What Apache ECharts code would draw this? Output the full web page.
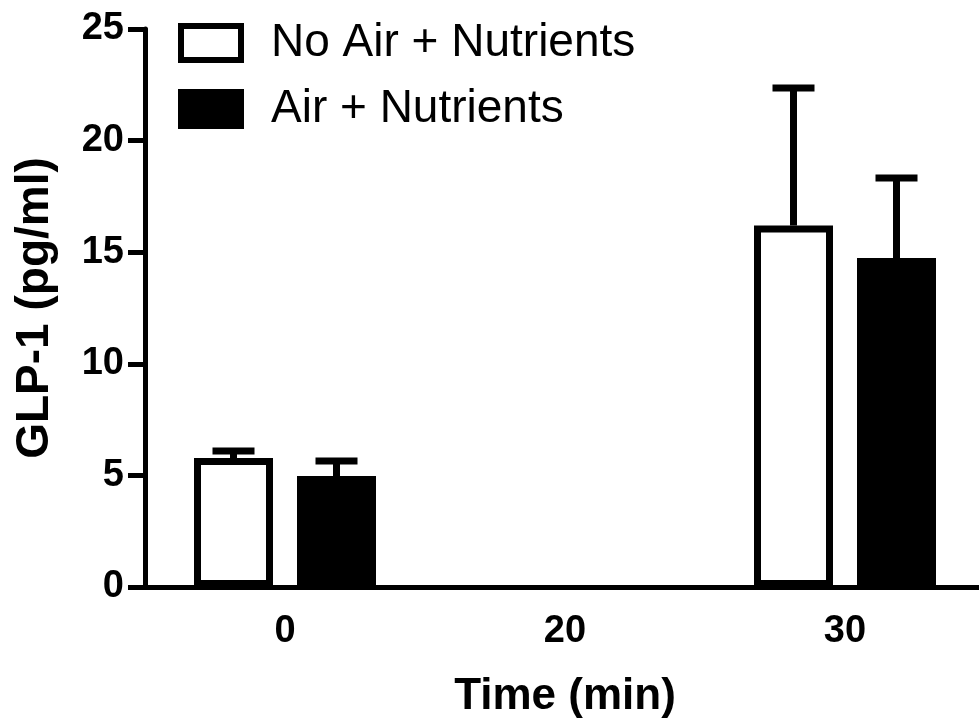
<!DOCTYPE html>
<html>
<head>
    <meta charset="utf-8">
    <script src="https://cdn.jsdelivr.net/npm/echarts@6.0.0/dist/echarts.min.js"></script>
    <style>
        * { margin: 0; padding: 0; }
        html, body { width: 979px; height: 725px; background: #fff; }
        #chart { width: 979px; height: 725px; }
    </style>
</head>
<body>
    <div id="chart"></div>
    <script>
        // data
        const timePoints = ['0', '20', '30'];
        const noAirMean = [5.78, null, 16.2];
        const noAirErr = [6.09, null, 22.36];   // upper end of error bar
        const airMean = [4.97, null, 14.74];
        const airErr = [5.65, null, 18.32];
        const seriesNames = ['No Air + Nutrients', 'Air + Nutrients'];

        const FONT = '"Liberation Sans", Arial, sans-serif';
        const BAR_W = 79;
        const GAP_PX = 24;
        const offset = (BAR_W + GAP_PX) / 2;

        // upward-only error bars
        function errorBar(means, tops, dir) {
            return {
                type: 'custom',
                z: 5,
                data: means.map((m, i) => [i, m, tops[i]]),
                renderItem: function (params, api) {
                    if (api.value(1) == null || isNaN(api.value(1))) return;
                    const base = api.coord([api.value(0), api.value(1)]);
                    const top = api.coord([api.value(0), api.value(2)]);
                    const x = base[0] + dir * offset;
                    const style = { stroke: '#000', lineWidth: 7 };
                    return {
                        type: 'group',
                        children: [
                            { type: 'line', shape: { x1: x, y1: base[1], x2: x, y2: top[1] }, style: style },
                            { type: 'line', shape: { x1: x - 21, y1: top[1], x2: x + 21, y2: top[1] }, style: style }
                        ]
                    };
                }
            };
        }

        const option = {
            animation: false,
            backgroundColor: '#fff',
            grid: { left: 145, width: 840, top: 29, bottom: 138, outerBoundsMode: 'none' },
            legend: {
                data: seriesNames,
                orient: 'vertical',
                left: 178,
                top: 20,
                padding: 0,
                itemWidth: 60,
                itemHeight: 34,
                itemGap: 20,
                icon: 'rect',
                itemStyle: { borderWidth: 6, borderColor: '#000' },
                textStyle: { fontFamily: FONT, fontSize: 46, color: '#000', padding: [0, 0, 0, 25] }
            },
            xAxis: {
                type: 'category',
                data: timePoints,
                name: 'Time (min)',
                nameLocation: 'middle',
                nameGap: 88,
                nameTextStyle: { fontFamily: FONT, fontSize: 44, fontWeight: 'bold', color: '#000' },
                axisLine: { lineStyle: { color: '#000', width: 5 } },
                axisTick: { alignWithLabel: true, length: 13, lineStyle: { color: '#000', width: 4 } },
                axisLabel: { fontFamily: FONT, fontSize: 38, fontWeight: 'bold', color: '#000', margin: 26 }
            },
            yAxis: {
                type: 'value',
                min: 0,
                max: 25,
                interval: 5,
                name: 'GLP-1 (pg/ml)',
                nameLocation: 'middle',
                nameGap: 87,
                nameTextStyle: { fontFamily: FONT, fontSize: 46, fontWeight: 'bold', color: '#000' },
                splitLine: { show: false },
                axisLine: { show: true, lineStyle: { color: '#000', width: 5 } },
                axisTick: { show: true, length: 17, lineStyle: { color: '#000', width: 5 } },
                axisLabel: { fontFamily: FONT, fontSize: 38, fontWeight: 'bold', color: '#000', margin: 21 }
            },
            series: [
                {
                    name: seriesNames[0],
                    type: 'bar',
                    data: noAirMean,
                    barWidth: BAR_W,
                    barGap: (GAP_PX / BAR_W * 100) + '%',
                    itemStyle: { color: '#fff', borderColor: '#000', borderWidth: 7 }
                },
                {
                    name: seriesNames[1],
                    type: 'bar',
                    data: airMean,
                    barWidth: BAR_W,
                    itemStyle: { color: '#000', borderColor: '#000', borderWidth: 7 }
                },
                errorBar(noAirMean, noAirErr, -1),
                errorBar(airMean, airErr, 1)
            ]
        };

        const chart = echarts.init(document.getElementById('chart'));
        chart.setOption(option);
    </script>
</body>
</html>
